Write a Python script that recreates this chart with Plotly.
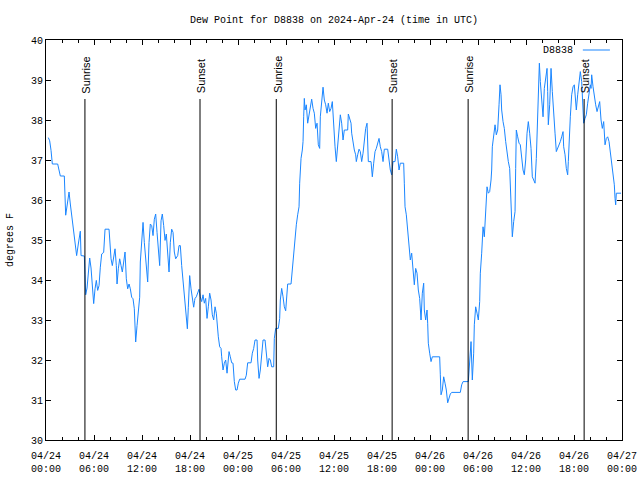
import pandas as pd
import plotly.graph_objects as go

# ---- data (hours after 2024-04-24 00:00 UTC, dew point in F) ----
hours_utc = [
    0.29, 0.46, 0.63, 0.79, 1.46, 1.54, 1.71, 1.79, 2.29, 2.38, 2.46, 2.63, 2.88, 3.04, 3.21, 3.38,
    3.54, 3.63, 3.83, 4.04, 4.21, 4.29, 4.38, 4.79, 4.88, 4.96, 5.13, 5.29, 5.46, 5.63, 5.79, 5.96,
    6.13, 6.29, 6.46, 6.63, 6.79, 6.96, 7.21, 7.38, 7.88, 7.96, 8.13, 8.29, 8.46, 8.63, 8.79, 8.88,
    9.04, 9.21, 9.38, 9.54, 9.71, 9.88, 10.04, 10.21, 10.38, 10.54, 10.71, 10.88, 11.04, 11.13, 11.21, 11.38,
    11.54, 11.71, 11.79, 11.96, 12.13, 12.29, 12.54, 12.71, 12.88, 13.04, 13.21, 13.38, 13.54, 13.71, 13.88, 14.04,
    14.21, 14.38, 14.54, 14.71, 14.88, 15.04, 15.21, 15.38, 15.54, 15.71, 15.88, 16.04, 16.21, 16.46, 16.63, 16.79,
    16.96, 17.13, 17.29, 17.46, 17.54, 17.67, 17.79, 17.96, 18.13, 18.29, 18.46, 18.58,
    18.63, 18.79, 18.96, 19.13, 19.29, 19.46, 19.63, 19.79, 19.96, 20.13, 20.29, 20.46, 20.63, 20.79, 20.96, 21.13,
    21.29, 21.38, 21.54, 21.71, 21.88, 21.96, 22.13, 22.29, 22.46, 22.63, 22.71, 22.88, 23.04, 23.21, 23.38, 23.54,
    23.71, 23.88, 24.04, 24.21, 24.88, 25.04, 25.21, 25.63, 25.79, 25.96, 26.13, 26.38, 26.46, 26.63, 26.79, 26.96,
    27.13, 27.38, 27.54, 27.71, 27.88, 28.04, 28.21, 28.46, 28.54, 28.71, 29.04, 29.21, 29.29, 29.46, 29.63, 29.79,
    29.96, 30.13, 30.21, 30.63, 30.71, 30.79, 30.96, 31.13, 31.29, 31.46, 31.63, 31.71, 31.88, 32.04, 32.13, 32.21,
    32.29, 32.38, 32.54, 32.71, 32.88, 33.04, 33.21, 33.38, 33.54, 33.71, 33.88, 34.04, 34.21, 34.29, 34.46, 34.63,
    34.79, 34.96, 35.13, 35.29, 35.46, 35.63, 35.79, 35.96, 36.13, 36.29, 36.46, 36.63, 36.79, 36.96, 37.13, 37.29,
    37.38, 37.71, 37.79, 37.96, 38.13, 38.21, 38.38, 38.54, 38.71, 38.79, 38.96, 39.13, 39.29, 39.46, 39.63, 39.79,
    39.96, 40.13, 40.21, 40.29, 40.63, 40.79, 40.96, 41.13, 41.29, 41.46, 41.63, 41.79, 41.96, 42.13, 42.29, 42.71,
    42.88, 43.04, 43.21, 43.38, 43.63, 43.79, 43.96, 44.13, 44.29, 44.71, 44.79, 44.88, 45.04, 45.21, 45.38, 45.54,
    45.71, 45.88, 46.04, 46.21, 46.38, 46.54, 46.71, 46.88, 47.04, 47.21, 47.29, 47.46, 47.63, 47.71, 47.79, 47.96,
    48.13, 48.29, 49.21, 49.29, 49.38, 49.54, 49.71, 49.88, 50.04, 50.21, 50.38, 50.54, 50.71, 51.79, 51.96, 52.13,
    52.79, 52.88, 52.96, 53.13, 53.29, 53.46, 53.54, 53.71, 53.88, 54.04, 54.21, 54.29, 54.46, 54.63, 54.79, 54.96,
    55.13, 55.29, 55.46, 55.63, 55.71, 55.79, 55.96, 56.08,
    56.13, 56.29, 56.46, 56.63, 56.75, 56.88, 56.96, 57.13, 57.29, 57.46, 57.63, 57.79, 57.96, 58.04, 58.13, 58.21,
    58.29, 58.46, 58.63, 58.71, 58.79, 58.96, 59.13, 59.29, 59.46, 59.63, 59.79, 59.96, 60.13, 60.29, 60.46, 60.63,
    60.79, 60.96, 61.13, 61.29, 61.46, 61.54, 61.67, 61.79, 61.96, 62.13, 62.29, 62.46, 62.63, 62.71, 62.79, 62.96,
    63.13, 63.29, 63.46, 63.63, 63.79, 63.96, 64.13, 64.29, 64.46, 64.63, 64.71, 64.88, 65.04, 65.21, 65.29, 65.38,
    65.54, 65.71, 65.88, 66.04, 66.21, 66.29, 66.46, 66.63, 66.79, 66.96, 67.13, 67.21, 67.38, 67.54, 67.71, 67.88,
    68.04, 68.13, 68.21, 68.38, 68.54, 68.71, 68.88, 69.04, 69.21, 69.38, 69.54, 69.71, 69.88, 70.04, 70.21, 70.38,
    70.54, 70.71, 70.88, 71.04, 71.13, 71.21, 71.29, 71.88,
]
dew_point_f = [
    37.56, 37.48, 37.24, 36.90, 36.90, 36.82, 36.70, 36.60, 36.60, 36.10, 35.62, 35.85, 36.20, 35.90, 35.65, 35.40,
    35.15, 34.95, 34.61, 34.90, 35.10, 35.22, 34.61, 34.60, 34.13, 33.63, 33.80, 34.22, 34.55, 34.30, 33.95, 33.41,
    33.78, 33.99, 33.74, 33.86, 34.32, 34.65, 34.69, 35.27, 35.27, 34.98, 34.53, 34.36, 34.61, 34.78, 34.36, 33.90,
    34.28, 34.53, 34.36, 34.20, 34.45, 34.70, 34.03, 33.78, 33.90, 33.78, 33.57, 33.53, 33.28, 32.74, 32.45, 32.86,
    33.28, 33.57, 34.45, 34.98, 35.44, 34.94, 34.28, 33.95, 34.94, 35.40, 35.36, 35.11, 35.52, 35.65, 35.19, 34.70,
    34.36, 35.48, 35.65, 35.36, 34.99, 35.15, 34.74, 34.20, 34.94, 35.27, 35.19, 34.70, 34.53, 34.61, 34.86, 34.86,
    34.36, 33.99, 33.61, 33.36, 33.11, 32.78, 33.32, 34.11, 33.78, 33.57, 33.32, 33.49,
    33.54, 33.58, 33.67, 33.77, 33.58, 33.46, 33.63, 33.42, 33.54, 33.04, 33.33, 33.67, 33.50, 33.13, 33.00, 33.33,
    33.17, 32.83, 32.58, 32.33, 32.29, 32.08, 31.75, 31.92, 32.00, 31.67, 31.83, 32.21, 32.08, 31.93, 31.92, 31.46,
    31.25, 31.25, 31.42, 31.52, 31.52, 31.62, 31.93, 31.93, 32.17, 32.29, 32.50, 32.50, 32.00, 31.54, 31.75, 32.08,
    32.50, 32.50, 32.08, 31.83, 32.04, 32.00, 31.83, 31.83, 32.54, 32.79, 32.79, 33.04, 33.50, 33.79, 33.58, 33.33,
    33.23, 33.75, 33.90, 33.90, 34.08, 34.42, 34.75, 35.17, 35.38, 35.63, 35.83, 36.42, 37.04, 37.25, 37.46, 38.08,
    38.54, 38.25, 38.38, 37.92, 38.17, 38.38, 38.52, 38.29, 38.17, 37.79, 37.92, 37.38, 37.29, 38.08, 38.38, 38.82,
    38.50, 38.38, 38.17, 38.42, 38.21, 38.29, 38.46, 37.83, 37.33, 36.96, 37.42, 37.67, 38.13, 37.92, 37.50, 37.75,
    37.75, 37.75, 38.15, 38.00, 37.92, 37.67, 37.42, 37.25, 37.13, 36.96, 37.13, 37.27, 37.21, 36.96, 37.17, 37.58,
    37.79, 37.92, 37.50, 36.96, 36.96, 36.58, 36.92, 37.21, 37.29, 37.46, 37.54, 37.33, 37.21, 36.96, 37.27, 37.27,
    37.00, 36.75, 36.63, 36.96, 36.96, 37.27, 37.08, 36.75, 36.92, 36.92, 36.42, 35.83, 35.63, 35.21, 34.92, 34.50,
    34.67, 34.33, 33.88, 34.29, 34.17, 33.75, 33.54, 33.00, 33.67, 33.92, 33.25, 33.00, 33.25, 32.92, 32.42, 32.17,
    31.96, 32.08, 32.08, 31.63, 31.13, 31.25, 31.58, 31.42, 31.25, 30.93, 31.04, 31.15, 31.19, 31.19, 31.38, 31.46,
    31.46, 31.67, 31.96, 32.46, 31.50, 32.17, 32.88, 33.33, 33.17, 33.00, 33.46, 34.17, 34.67, 35.33, 35.08, 35.79,
    36.33, 36.17, 36.21, 36.50, 36.75, 37.33, 37.58, 37.77,
    37.88, 37.63, 37.75, 38.38, 38.88, 38.63, 38.25, 37.96, 37.79, 37.46, 37.17, 36.96, 36.79, 36.33, 36.04, 35.63,
    35.08, 35.46, 35.71, 36.79, 37.75, 37.58, 37.42, 37.38, 37.00, 36.75, 36.63, 37.00, 37.67, 37.96, 37.67, 37.29,
    36.58, 36.50, 36.42, 37.04, 38.00, 38.50, 39.42, 38.96, 38.54, 38.08, 38.79, 39.04, 39.29, 38.71, 37.88, 38.38,
    39.29, 38.71, 38.04, 37.67, 37.21, 37.29, 37.38, 37.46, 37.58, 37.71, 37.33, 37.13, 36.79, 36.63, 36.96, 37.46,
    38.08, 38.63, 38.83, 38.88, 38.54, 38.25, 38.63, 39.04, 39.21, 38.96, 38.25, 37.92, 38.04, 38.13, 38.42, 38.63,
    38.88, 38.79, 39.13, 38.83, 38.58, 38.38, 38.21, 38.38, 38.46, 38.00, 37.79, 37.96, 37.38, 37.54, 37.58, 37.46,
    37.21, 36.96, 36.75, 36.38, 36.04, 35.88, 36.17, 36.17,
]

sun_times = ["2024-04-24 04:52", "2024-04-24 19:15", "2024-04-25 04:47",
             "2024-04-25 19:16", "2024-04-26 04:46", "2024-04-26 19:16"]
sun_labels = ["Sunrise", "Sunset", "Sunrise", "Sunset", "Sunrise", "Sunset"]

tick_times = pd.date_range("2024-04-24 00:00", "2024-04-27 00:00", freq="6h")
tick_labels = [t.strftime("%m/%d<br>%H:%M") for t in tick_times]
y_ticks = list(range(30, 41))

series_name = "D8838"
title_text = "Dew Point for D8838 on 2024-Apr-24 (time in UTC)"

# ---- figure ----
base = pd.Timestamp("2024-04-24 00:00")
times = [base + pd.Timedelta(hours=h) for h in hours_utc]

MONO = "Liberation Mono, DejaVu Sans Mono, monospace"
SANS = "Liberation Sans, Arial, sans-serif"
BLUE = "#1a86ff"
W, H = 640, 480

fig = go.Figure()
fig.add_trace(go.Scatter(x=times, y=dew_point_f, mode="lines",
                         line=dict(color=BLUE, width=1), name=series_name,
                         showlegend=False, hoverinfo="skip"))

shapes = []
annotations = []
for t, lab in zip(sun_times, sun_labels):
    shapes.append(dict(type="line", xref="x", yref="paper", x0=t, x1=t,
                       y0=0, y1=0.8525, line=dict(color="black", width=1)))
    annotations.append(dict(x=t, y=0.862, xref="x", yref="paper", text=lab,
                            textangle=-90, showarrow=False, xanchor="center",
                            yanchor="bottom", xshift=1,
                            font=dict(family=SANS, size=11, color="black")))

# legend (gnuplot style: text then line sample)
annotations.append(dict(x=0.919, y=0.975, xref="paper", yref="paper", text=series_name,
                        showarrow=False, xanchor="right", yanchor="middle",
                        font=dict(family=MONO, size=10, color="black")))
shapes.append(dict(type="line", xref="paper", yref="paper", x0=0.932, x1=0.979,
                   y0=0.975, y1=0.975, line=dict(color=BLUE, width=1)))

# y-axis title
annotations.append(dict(x=-0.0625, y=0.5, xref="paper", yref="paper", text="degrees F",
                        textangle=-90, showarrow=False, xanchor="center", yanchor="middle",
                        font=dict(family=MONO, size=10, color="black")))

fig.update_layout(
    width=W, height=H,
    margin=dict(l=46, r=18, t=40, b=40, autoexpand=False),
    paper_bgcolor="white", plot_bgcolor="white",
    title=dict(text=title_text, x=334 / W, xanchor="center",
               y=1 - 19 / H, yanchor="middle",
               font=dict(family=MONO, size=10, color="black")),
    shapes=shapes, annotations=annotations,
    showlegend=False, hovermode=False,
    font=dict(family=MONO, size=10, color="black"),
)
fig.update_xaxes(
    type="date", range=[tick_times[0], tick_times[-1]], automargin=False,
    tickmode="array", tickvals=list(tick_times), ticktext=tick_labels,
    ticks="inside", ticklen=5, tickcolor="black", tickwidth=1,
    ticklabelstandoff=6,
    showline=True, linecolor="black", linewidth=1, mirror="ticks",
    showgrid=False, zeroline=False,
    tickfont=dict(family=MONO, size=10, color="black"),
    minor=dict(ticks="inside", ticklen=3, tickcolor="black", dtick=7200000,
               tick0="2024-04-24 00:00", showgrid=False),
)
fig.update_yaxes(
    range=[30, 40], tickmode="array", tickvals=y_ticks, automargin=False,
    ticks="inside", ticklen=5, tickcolor="black", tickwidth=1,
    showline=True, linecolor="black", linewidth=1, mirror="ticks",
    showgrid=False, zeroline=False,
    tickfont=dict(family=MONO, size=10, color="black"),
)

# remove the browser's default body margin so the figure fills the window
fig.write_html(
    "out.html",
    config={"displayModeBar": False, "staticPlot": True},
    post_script="document.body.style.margin='0';"
                "document.documentElement.style.overflow='hidden';",
)
